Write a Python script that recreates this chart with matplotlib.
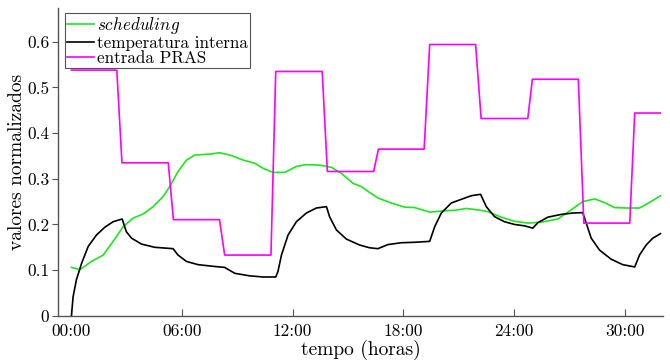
import matplotlib
matplotlib.use("Agg")
import matplotlib.pyplot as plt
from matplotlib.ticker import FuncFormatter, FixedLocator

plt.rcParams["font.family"] = ["cmr10", "DejaVu Serif"]
plt.rcParams["mathtext.fontset"] = "cm"
plt.rcParams["axes.formatter.use_mathtext"] = True

# values (time in hours, normalized value)
sched_t = [0, 0.46, 1.09, 1.72, 2.26, 2.8, 3.35, 3.89, 4.43, 4.97, 5.33, 5.78, 6.24, 6.69,
           7.5, 8.04, 8.59, 9.31, 9.94, 10.39, 10.93, 11.57, 12.2, 12.74, 13.46, 14.1, 14.64,
           15.27, 15.72, 16.17, 16.62, 17.35, 18.07, 18.61, 19.43, 20.24, 20.78, 21.41, 22.04,
           22.59, 23.31, 24.03, 24.75, 25.48, 26.38, 27.1, 27.73, 28.37, 28.91, 29.45, 30.17,
           30.81, 31.35, 31.95]
sched_v = [0.106, 0.101, 0.119, 0.133, 0.163, 0.195, 0.214, 0.223, 0.239, 0.261, 0.283, 0.316,
           0.341, 0.352, 0.354, 0.357, 0.352, 0.341, 0.334, 0.323, 0.314, 0.314, 0.327, 0.331,
           0.330, 0.325, 0.312, 0.290, 0.283, 0.270, 0.258, 0.247, 0.238, 0.237, 0.227, 0.230,
           0.231, 0.235, 0.232, 0.228, 0.216, 0.207, 0.203, 0.205, 0.212, 0.232, 0.250, 0.256,
           0.248, 0.237, 0.236, 0.236, 0.248, 0.263]

temp_t = [0, 0.09, 0.27, 0.55, 0.91, 1.36, 1.81, 2.26, 2.75, 2.98, 3.26, 3.8, 4.52, 5.51,
          5.78, 6.24, 6.87, 7.77, 8.31, 8.86, 9.67, 10.39, 11.08, 11.2, 11.39, 11.75, 12.2,
          12.74, 13.28, 13.83, 14.0, 14.37, 14.91, 15.63, 16.17, 16.62, 17.17, 17.89, 18.61,
          19.43, 19.7, 20.06, 20.6, 21.14, 21.69, 22.19, 22.5, 22.95, 23.49, 24.03, 24.57,
          25.02, 25.3, 25.84, 26.56, 27.19, 27.73, 27.92, 28.19, 28.64, 29.27, 29.9, 30.55,
          30.81, 31.17, 31.53, 31.95]
temp_v = [0.0, 0.042, 0.079, 0.115, 0.152, 0.177, 0.194, 0.206, 0.212, 0.184, 0.170, 0.157,
          0.150, 0.147, 0.133, 0.119, 0.112, 0.108, 0.106, 0.093, 0.0875, 0.085, 0.085, 0.097,
          0.133, 0.177, 0.206, 0.225, 0.236, 0.239, 0.217, 0.188, 0.168, 0.155, 0.149, 0.147,
          0.156, 0.160, 0.161, 0.163, 0.195, 0.225, 0.247, 0.255, 0.263, 0.266, 0.239, 0.217,
          0.206, 0.200, 0.197, 0.192, 0.204, 0.216, 0.222, 0.225, 0.226, 0.203, 0.170, 0.144,
          0.124, 0.112, 0.107, 0.133, 0.155, 0.170, 0.180]

pras_t = [0, 2.46, 2.74, 5.25, 5.53, 8.03, 8.31, 10.82, 11.08, 13.6, 13.88, 16.39, 16.65,
          19.13, 19.43, 21.92, 22.22, 24.75, 25.0, 27.49, 27.79, 30.28, 30.55, 31.93]
pras_v = [0.538, 0.538, 0.335, 0.335, 0.2105, 0.2105, 0.133, 0.133, 0.535, 0.535, 0.316,
          0.316, 0.365, 0.365, 0.594, 0.594, 0.432, 0.432, 0.518, 0.518, 0.203, 0.203,
          0.444, 0.444]

x_ticks = [0, 6, 12, 18, 24, 30]
y_ticks = [0, 0.1, 0.2, 0.3, 0.4, 0.5, 0.6]

fig = plt.figure(figsize=(6.7, 3.63), dpi=100)
ax = fig.add_axes([0.086, 0.13, 0.904, 0.848])

ax.plot(sched_t, sched_v, color="#1ee61e", lw=1.2, label=r"$\mathit{scheduling}$")
ax.plot(temp_t, temp_v, color="black", lw=1.2, label="temperatura interna")
ax.plot(pras_t, pras_v, color="#ff00ff", lw=1.2, label="entrada PRAS")

ax.set_xlim(-0.75, 32.1)
ax.set_ylim(0, 0.674)
ax.xaxis.set_major_locator(FixedLocator(x_ticks))
ax.xaxis.set_major_formatter(FuncFormatter(lambda v, p: "%02d:00" % int(round(v))))
ax.yaxis.set_major_locator(FixedLocator(y_ticks))
ax.yaxis.set_major_formatter(FuncFormatter(lambda v, p: "0" if v == 0 else "%.1f" % v))

for s in ["top", "right"]:
    ax.spines[s].set_visible(False)
for s in ["left", "bottom"]:
    ax.spines[s].set_color("#555555")
    ax.spines[s].set_linewidth(1.0)
ax.tick_params(axis="x", direction="in", length=5, color="#555555", labelsize=12.5, pad=6)
ax.tick_params(axis="y", direction="out", length=4, color="#555555", labelsize=12.5, pad=2)

ax.set_xlabel("tempo (horas)", fontsize=14, labelpad=0)
ax.set_ylabel("valores normalizados", fontsize=14, labelpad=0.5)

leg = ax.legend(loc="upper left", bbox_to_anchor=(0.012, 0.984), fontsize=12.3,
                fancybox=False, framealpha=1, edgecolor="#555555",
                handlelength=1.6, handletextpad=0.2, borderpad=0.1,
                labelspacing=0.0, borderaxespad=0.0)
leg.get_frame().set_linewidth(0.8)

fig.savefig("out.png", dpi=100)
